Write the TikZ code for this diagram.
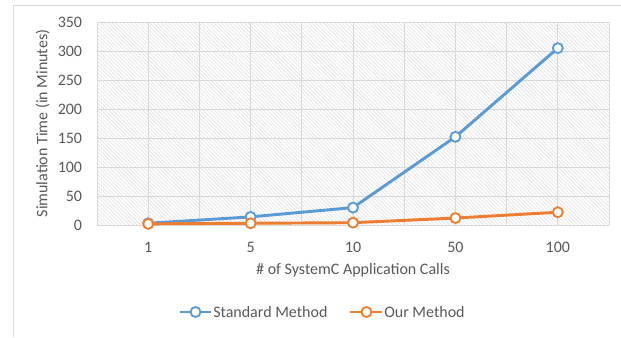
\documentclass[tikz,border=0pt]{standalone}
\usepackage{fontspec}
\setmainfont{Carlito}
\usetikzlibrary{positioning,patterns.meta}
\definecolor{stdblue}{HTML}{5B9BD5}
\definecolor{ourorange}{HTML}{ED7D31}
\definecolor{gridgray}{HTML}{D9D9D9}
\definecolor{labelgray}{HTML}{595959}
\tikzset{
  gridline/.style={gridgray,line width=0.75pt},
  ticklabel/.style={font=\fontsize{12}{14}\selectfont,text=labelgray,inner sep=1pt},
  seriesline/.style={line width=2.2pt,line join=round},
  datamark/.style={circle,draw=#1,fill=white,line width=1.4pt,minimum size=7.5pt,inner sep=0pt},
}

\begin{document}
\begin{tikzpicture}[x=0.75pt,y=0.75pt]
  \useasboundingbox (0,0) rectangle (621,337);
  % chart frame, cut off at right and bottom
  \draw[gridline] (13.5,0) -- (13.5,332) -- (621,332);
  \begin{scope}[shift={(72.75pt,84pt)},x=76.8pt,y=0.435pt]
    % plot area
    \fill[white] (0,0) rectangle (5,350);
    \fill[pattern={Lines[angle=-45,distance=2pt,line width=0.45pt]},pattern color=gray!24] (0,0) rectangle (5,350);
    \foreach \gx in {0,0.5,...,5} {
      \draw[gridline] (\gx,0) -- (\gx,350);
    }
    \foreach \gy in {0,50,...,350} {
      \draw[gridline] (0,\gy) -- (5,\gy);
      \node[ticklabel,anchor=east] (ylab\gy) at (-0.13,\gy) {\gy};
    }
    \foreach \lbl [count=\k from 0] in {1,5,10,50,100} {
      \node[ticklabel] (xlab\k) at (\k+0.5,-38) {\lbl};
    }
    \node[ticklabel] (xtitle) at (2.5,-77.6) {\# of SystemC Application Calls};
    \node[ticklabel,rotate=90] (ytitle) at (-0.53,175) {Simulation Time (in Minutes)};
    % data: standard / ours
    \foreach \sval/\oval [count=\k from 0] in {3/2,14/3,30/4,152/12,305/22} {
      \coordinate (std\k) at (\k+0.5,\sval);
      \coordinate (our\k) at (\k+0.5,\oval);
    }
    \draw[seriesline,stdblue] (std0) -- (std1) -- (std2) -- (std3) -- (std4);
    \foreach \k in {0,...,4} {
      \node[datamark=stdblue] (stdmark\k) at (std\k) {};
    }
    \draw[seriesline,ourorange] (our0) -- (our1) -- (our2) -- (our3) -- (our4);
    \foreach \k in {0,...,4} {
      \node[datamark=ourorange] (ourmark\k) at (our\k) {};
    }
  \end{scope}
  % legend
  \coordinate (legstdA) at (180,25);
  \coordinate (legstdB) at (211,25);
  \draw[seriesline,stdblue] (legstdA) -- (legstdB);
  \node[datamark=stdblue] (legstdmark) at (195.5,25) {};
  \node[ticklabel,anchor=west,right=0.5pt of legstdB] (legstdtext) {Standard Method};
  \coordinate (legourA) at (350,25);
  \coordinate (legourB) at (382,25);
  \draw[seriesline,ourorange] (legourA) -- (legourB);
  \node[datamark=ourorange] (legourmark) at (366.5,25) {};
  \node[ticklabel,anchor=west,right=0.5pt of legourB] (legourtext) {Our Method};
\end{tikzpicture}
\end{document}
